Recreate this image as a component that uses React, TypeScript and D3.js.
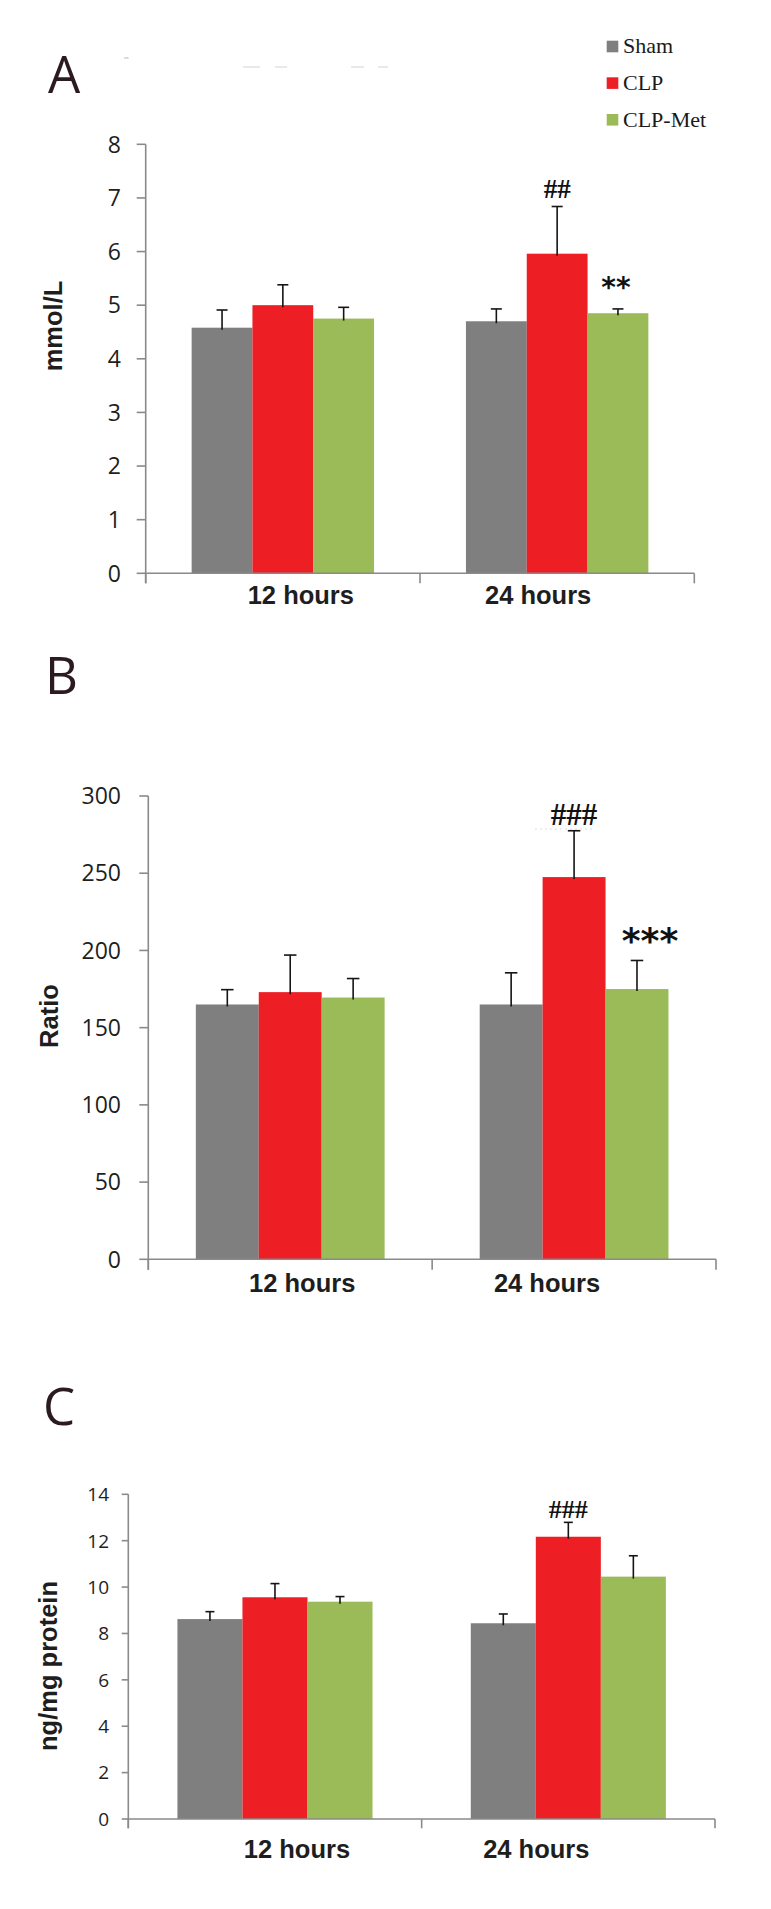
import React from "react";
import * as d3 from "d3";

// ---------- data ----------
const groups = ["12 hours", "24 hours"];
const seriesNames = ["Sham", "CLP", "CLP-Met"];
const seriesColors = ["#7f7f7f", "#ed1f24", "#9bbb59"];

// Panel A (mmol/L): [group][series]
const aMeans = [
  [4.58, 5.0, 4.75],
  [4.7, 5.96, 4.85],
];
const aErrors = [
  [0.33, 0.38, 0.21],
  [0.23, 0.88, 0.08],
];
const aTicks = [0, 1, 2, 3, 4, 5, 6, 7, 8];

// Panel B (Ratio)
const bMeans = [
  [165, 173, 169.5],
  [165, 247.5, 175],
];
const bErrors = [
  [9.6, 24, 12.3],
  [20.5, 30, 18.5],
];
const bTicks = [0, 50, 100, 150, 200, 250, 300];

// Panel C (ng/mg protein)
const cMeans = [
  [8.62, 9.56, 9.37],
  [8.44, 12.17, 10.45],
];
const cErrors = [
  [0.32, 0.59, 0.22],
  [0.4, 0.62, 0.9],
];
const cTicks = [0, 2, 4, 6, 8, 10, 12, 14];

// significance marks
const aMarks = [
  { g: 1, s: 1, text: "##", kind: "hash" },
  { g: 1, s: 2, text: "**", kind: "star" },
];
const bMarks = [
  { g: 1, s: 1, text: "###", kind: "hash" },
  { g: 1, s: 2, text: "***", kind: "star" },
];
const cMarks = [{ g: 1, s: 1, text: "###", kind: "hash" }];

type Mark = { g: number; s: number; text: string; kind: string };

type PanelProps = {
  letter: string;
  letterX: number;
  letterY: number;
  means: number[][];
  errors: number[][];
  ticks: number[];
  yMax: number;
  left: number;
  right: number;
  top: number;
  bottom: number;
  tickFont: number;
  tickLabelX: number;
  tickLen: number;
  xTickLen: number;
  capW: number;
  yTitle: string;
  yTitleX: number;
  yTitleY: number;
  xLabelOffsets: number[];
  xLabelY: number;
  marks: Mark[];
  hashFont: number;
  hashGap: number;
  starFont: number;
  starDx: number;
  starY: number;
};

function Panel(p: PanelProps) {
  const x0 = d3
    .scaleBand<string>()
    .domain(groups)
    .range([p.left, p.right])
    .paddingInner(0.335)
    .paddingOuter(0.1675);
  const x1 = d3
    .scaleBand<string>()
    .domain(seriesNames)
    .range([0, x0.bandwidth()]);
  const y = d3.scaleLinear().domain([0, p.yMax]).range([p.bottom, p.top]);
  const axisColor = "#8a8a8a";
  const step = (p.right - p.left) / groups.length;
  const xTickPositions = d3.range(groups.length + 1).map((i) => p.left + i * step);

  return (
    <g>
      <text
        x={p.letterX}
        y={p.letterY}
        fontFamily="'Open Sans', sans-serif"
        fontSize={51}
        fill="#2b1a21"
      >
        {p.letter}
      </text>
      {/* bars */}
      {groups.map((g, gi) => (
        <g key={g} transform={`translate(${x0(g)},0)`}>
          {seriesNames.map((s, si) => (
            <rect
              key={s}
              x={x1(s)}
              y={y(p.means[gi][si])}
              width={x1.bandwidth()}
              height={p.bottom - y(p.means[gi][si])}
              fill={seriesColors[si]}
            />
          ))}
        </g>
      ))}
      {/* error bars */}
      {groups.map((g, gi) =>
        seriesNames.map((s, si) => {
          const cx = (x0(g) as number) + (x1(s) as number) + x1.bandwidth() / 2;
          const yt = y(p.means[gi][si] + p.errors[gi][si]);
          const yb = y(p.means[gi][si]);
          return (
            <g key={g + s} stroke="#151515" strokeWidth={1.6}>
              <line x1={cx} x2={cx} y1={yb + 2} y2={yt} />
              <line x1={cx - p.capW / 2} x2={cx + p.capW / 2} y1={yt} y2={yt} />
            </g>
          );
        })
      )}
      {/* y axis */}
      <line
        x1={p.left}
        x2={p.left}
        y1={p.top}
        y2={p.bottom + p.xTickLen}
        stroke={axisColor}
        strokeWidth={1.6}
      />
      {p.ticks.map((t) => (
        <g key={t}>
          <line
            x1={p.left - p.tickLen}
            x2={p.left}
            y1={y(t)}
            y2={y(t)}
            stroke={axisColor}
            strokeWidth={1.6}
          />
          <text
            x={p.tickLabelX}
            y={y(t)}
            dy="0.36em"
            textAnchor="end"
            fontFamily="'Open Sans', sans-serif"
            fontSize={p.tickFont}
            fill="#1e1e1e"
          >
            {t}
          </text>
        </g>
      ))}
      {/* x axis */}
      <line
        x1={p.left}
        x2={p.right}
        y1={p.bottom}
        y2={p.bottom}
        stroke={axisColor}
        strokeWidth={1.6}
      />
      {xTickPositions.map((xp, i) => (
        <line
          key={i}
          x1={xp}
          x2={xp}
          y1={p.bottom}
          y2={p.bottom + p.xTickLen}
          stroke={axisColor}
          strokeWidth={1.6}
        />
      ))}
      {groups.map((g, gi) => (
        <text
          key={g}
          x={(x0(g) as number) + x0.bandwidth() / 2 + p.xLabelOffsets[gi]}
          y={p.xLabelY}
          textAnchor="middle"
          fontFamily="'Liberation Sans', Arial, sans-serif"
          fontWeight="bold"
          fontSize={25.5}
          fill="#1e1e1e"
        >
          {g}
        </text>
      ))}
      {/* y title */}
      <text
        transform={`translate(${p.yTitleX},${p.yTitleY}) rotate(-90)`}
        textAnchor="middle"
        fontFamily="'Liberation Sans', Arial, sans-serif"
        fontWeight="bold"
        fontSize={25.5}
        fill="#1e1e1e"
      >
        {p.yTitle}
      </text>
      {/* significance marks */}
      {p.marks.map((m, i) => {
        const g = groups[m.g];
        const s = seriesNames[m.s];
        const cx = (x0(g) as number) + (x1(s) as number) + x1.bandwidth() / 2;
        if (m.kind === "hash") {
          const yt = y(p.means[m.g][m.s] + p.errors[m.g][m.s]);
          return (
            <text
              key={i}
              x={cx}
              y={yt - p.hashGap}
              textAnchor="middle"
              fontFamily="'Liberation Serif', 'Times New Roman', serif"
              fontWeight="bold"
              fontSize={p.hashFont}
              fill="#111"
            >
              {m.text}
            </text>
          );
        }
        return (
          <text
            key={i}
            x={cx + p.starDx}
            y={p.starY}
            textAnchor="middle"
            fontFamily="'DejaVu Sans', sans-serif"
            fontWeight="bold"
            fontSize={p.starFont}
            fill="#111"
          >
            {m.text}
          </text>
        );
      })}
    </g>
  );
}

export default function App() {
  const legendY = [40.7, 77.3, 114];
  return (
    <svg
      width={771}
      height={1909}
      style={{ position: "absolute", left: 0, top: 0, display: "block", background: "#fff" }}
    >
      <rect x={0} y={0} width={771} height={1909} fill="#fff" />
      {/* faint scan artifacts near panel A */}
      <text x={124} y={61} fontSize={5} fill="#999" fontFamily="sans-serif">
        ^^
      </text>
      <g stroke="#e2e2e2" strokeWidth={1.5}>
        <line x1={243} x2={260} y1={67} y2={67} />
        <line x1={275} x2={287} y1={67} y2={67} />
        <line x1={351} x2={364} y1={67} y2={67} />
        <line x1={378} x2={388} y1={67} y2={67} />
      </g>
      {/* faint dotted line under ### in panel B */}
      <line x1={535} x2={592} y1={829} y2={829} stroke="#dcdcdc" strokeWidth={1} strokeDasharray="2 3" />
      {/* legend */}
      {seriesNames.map((s, i) => (
        <g key={s}>
          <rect x={606.7} y={legendY[i]} width={11.6} height={11.6} fill={seriesColors[i]} />
          <text
            x={623}
            y={legendY[i] + 12.6}
            fontFamily="'Liberation Serif', 'Times New Roman', serif"
            fontSize={22}
            fill="#1a1a1a"
          >
            {s}
          </text>
        </g>
      ))}

      <Panel
        letter="A"
        letterX={48}
        letterY={92.7}
        means={aMeans}
        errors={aErrors}
        ticks={aTicks}
        yMax={8}
        left={145.7}
        right={694.3}
        top={144.3}
        bottom={573.3}
        tickFont={23}
        tickLabelX={121}
        tickLen={9}
        xTickLen={10}
        capW={11}
        yTitle="mmol/L"
        yTitleX={61.5}
        yTitleY={326}
        xLabelOffsets={[18, -19]}
        xLabelY={603.5}
        marks={aMarks}
        hashFont={27}
        hashGap={9}
        starFont={28}
        starDx={-2}
        starY={296.5}
      />
      <Panel
        letter="B"
        letterX={45}
        letterY={694}
        means={bMeans}
        errors={bErrors}
        ticks={bTicks}
        yMax={300}
        left={148.3}
        right={716}
        top={796}
        bottom={1259.3}
        tickFont={23}
        tickLabelX={121}
        tickLen={9}
        xTickLen={10.5}
        capW={12.5}
        yTitle="Ratio"
        yTitleX={58}
        yTitleY={1016}
        xLabelOffsets={[12, -27]}
        xLabelY={1292}
        marks={bMarks}
        hashFont={31}
        hashGap={6}
        starFont={36}
        starDx={13}
        starY={952.5}
      />
      <Panel
        letter="C"
        letterX={43}
        letterY={1425}
        means={cMeans}
        errors={cErrors}
        ticks={cTicks}
        yMax={14}
        left={128.3}
        right={715}
        top={1494.3}
        bottom={1819}
        tickFont={19}
        tickLabelX={109}
        tickLen={6.6}
        xTickLen={9.3}
        capW={9}
        yTitle="ng/mg protein"
        yTitleX={56.5}
        yTitleY={1666}
        xLabelOffsets={[22, -32]}
        xLabelY={1858}
        marks={cMarks}
        hashFont={26}
        hashGap={4}
        starFont={28}
        starDx={0}
        starY={0}
      />
    </svg>
  );
}
